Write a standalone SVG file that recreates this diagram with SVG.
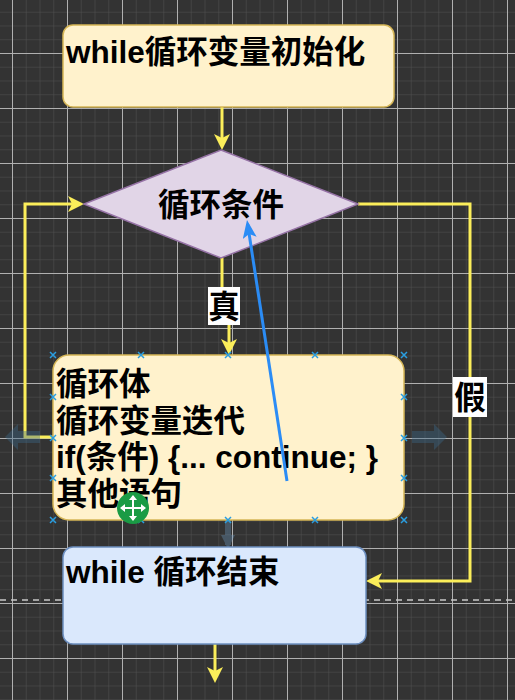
<svg xmlns="http://www.w3.org/2000/svg" width="515" height="700" viewBox="0 0 515 700">
<style>
.t{font-family:"Liberation Sans","Noto Sans CJK SC",sans-serif;font-weight:bold;font-size:31.5px;fill:#000}
.c{fill:none;stroke:#fbee5a;stroke-width:3}
.sel{stroke:#2a9ee0;stroke-width:1.5;fill:none}
</style>
<defs>
<pattern id="minor" x="12" y="-2" width="13.75" height="13.75" patternUnits="userSpaceOnUse">
<path d="M0 0 H13.75 M0 0 V13.75" stroke="#525252" stroke-width="1" fill="none"/>
</pattern>
<pattern id="major" x="12" y="-2" width="55" height="55" patternUnits="userSpaceOnUse">
<path d="M0 0.5 H55 M0.5 0 V55" stroke="#b0b0b0" stroke-width="1" fill="none"/>
</pattern>
<marker id="ya" viewBox="0 0 16 16" markerWidth="16" markerHeight="16" refX="12" refY="8" orient="auto" markerUnits="userSpaceOnUse">
<path d="M0,0 L16,8 L0,16 L4,8 Z" fill="#fbee5a"/>
</marker>
<marker id="ba" viewBox="0 0 18 14" markerWidth="18" markerHeight="14" refX="14" refY="7" orient="auto" markerUnits="userSpaceOnUse">
<path d="M0,0 L18,7 L0,14 L4,7 Z" fill="#2b8cf5"/>
</marker>
<marker id="fa" viewBox="0 0 14 14" markerWidth="14" markerHeight="14" refX="10" refY="7" orient="auto" markerUnits="userSpaceOnUse">
<path d="M0,0 L14,7 L0,14 Z" fill="#6e9cc4"/>
</marker>
<g id="xm"><path d="M-3 -3 L3 3 M-3 3 L3 -3" class="sel"/></g>
</defs>
<rect width="515" height="700" fill="#333333"/>
<rect width="515" height="700" fill="url(#minor)"/>
<rect width="515" height="700" fill="url(#major)"/>
<line x1="0" y1="600" x2="515" y2="600" stroke="#c8c8c8" stroke-width="1.5" stroke-dasharray="6 5"/>

<g id="connectors">
<path class="c" d="M222 107 V146" marker-end="url(#ya)"/>
<path class="c" d="M222 258 V305 H229 V351" marker-end="url(#ya)"/>
<path class="c" d="M53 437 H25 V204 H80" marker-end="url(#ya)"/>
<path class="c" d="M358 204 H470 V581 H370" marker-end="url(#ya)"/>
<path class="c" d="M215 644 V679" marker-end="url(#ya)"/>
<path d="M228 520 V545" stroke="#6e9cc4" stroke-width="6" opacity="0.35" fill="none" marker-end="url(#fa)"/>
</g>

<g id="init">
<rect x="63" y="25" width="331" height="82" rx="10" fill="#fff2cc" stroke="#d6b656" stroke-width="1.5"/>
<text class="t" x="66" y="63">while循环变量初始化</text>
</g>

<g id="cond">
<polygon points="221,150 358,204 221,258 84,204" fill="#e1d5e7" stroke="#9673a6" stroke-width="1.5"/>
<text class="t" x="221" y="216" text-anchor="middle">循环条件</text>
</g>

<g id="body">
<rect x="53" y="355" width="351" height="165" rx="16" fill="#fff2cc" stroke="#d6b656" stroke-width="1.5"/>
<text class="t" x="56" y="395">循环体</text>
<text class="t" x="56" y="432">循环变量迭代</text>
<text class="t" x="56" y="468">if(条件) {... continue; }</text>
<text class="t" x="56" y="505">其他语句</text>
</g>

<g id="end">
<rect x="63" y="547" width="303" height="97" rx="10" fill="#dae8fc" stroke="#6c8ebf" stroke-width="1.5"/>
<text class="t" x="66" y="583">while 循环结束</text>
</g>

<g id="labels">
<rect x="208" y="287" width="32" height="38" fill="#ffffff"/>
<text class="t" x="224" y="318" text-anchor="middle">真</text>
<rect x="453" y="377" width="34" height="40" fill="#ffffff"/>
<text class="t" x="470" y="409" text-anchor="middle">假</text>
</g>

<g id="annotation">
<path d="M287 481 L247.6 224" stroke="#2b8cf5" stroke-width="3" fill="none" marker-end="url(#ba)"/>
</g>

<g id="selection">
<use href="#xm" x="53" y="355"/><use href="#xm" x="141" y="355"/><use href="#xm" x="228" y="355"/><use href="#xm" x="315" y="355"/><use href="#xm" x="404" y="355"/>
<use href="#xm" x="53" y="397"/><use href="#xm" x="53" y="438"/><use href="#xm" x="53" y="478"/>
<use href="#xm" x="404" y="397"/><use href="#xm" x="404" y="438"/><use href="#xm" x="404" y="478"/>
<use href="#xm" x="53" y="520"/><use href="#xm" x="141" y="520"/><use href="#xm" x="228" y="520"/><use href="#xm" x="315" y="520"/><use href="#xm" x="404" y="520"/>
<polygon points="5,437 18,424 18,431 40,431 40,443 18,443 18,450" fill="#3c6a8a" opacity="0.4"/>
<polygon points="447,437 434,424 434,431 412,431 412,443 434,443 434,450" fill="#3c6a8a" opacity="0.4"/>
<circle cx="133" cy="508" r="16" fill="#1a9b45"/>
<path d="M133 496 V520 M121 508 H145" stroke="#fff" stroke-width="2"/>
<path d="M133 495 L129 500 H137 Z M133 521 L129 516 H137 Z M120 508 L125 504 V512 Z M146 508 L141 504 V512 Z" fill="#fff"/>
</g>
</svg>
